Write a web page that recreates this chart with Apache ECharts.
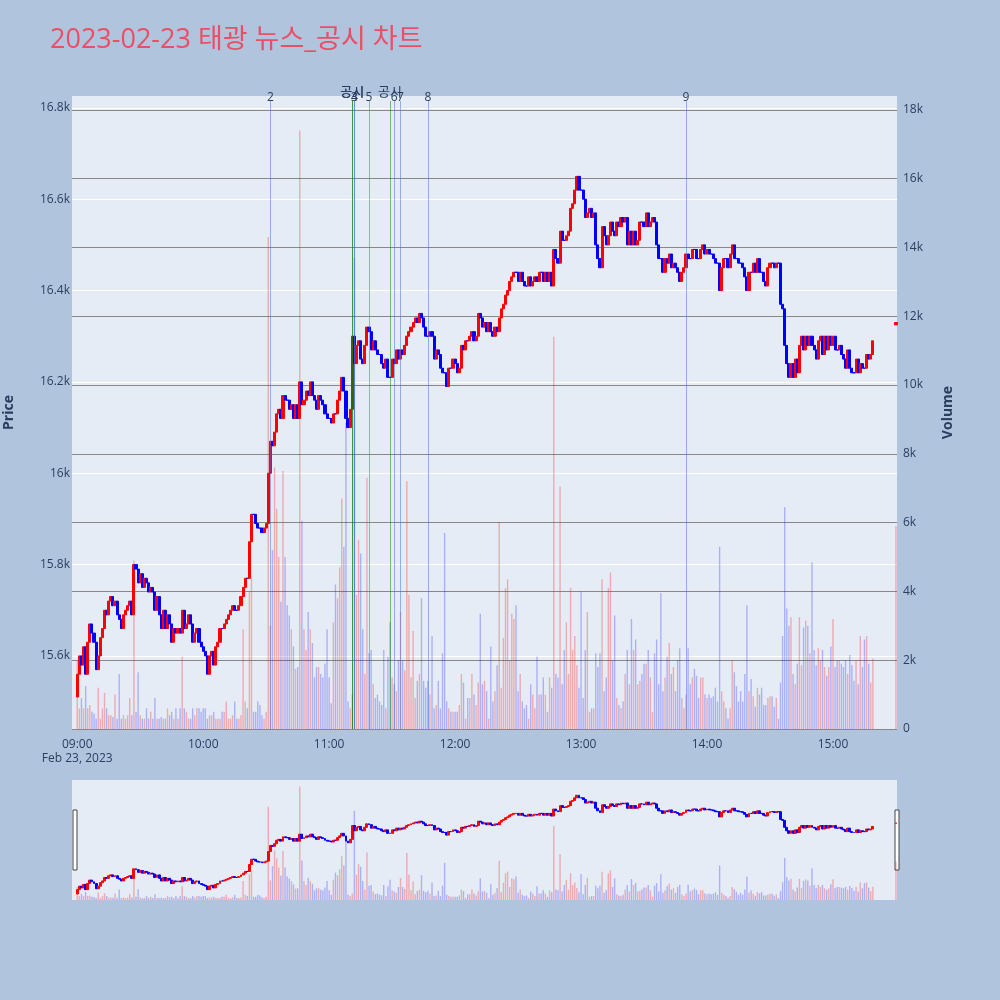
<!DOCTYPE html>
<html>

<head>
    <meta charset="utf-8">
    <title>태광 뉴스_공시 차트</title>
    <script src="https://cdn.jsdelivr.net/npm/echarts@6/dist/echarts.min.js"></script>
    <style>
        html, body { margin: 0; padding: 0; background: #b0c4de; }
    </style>
</head>

<body>
    <div id="main" style="width: 1000px;height:1000px;"></div>
    <script>
        // 분봉 종가 (09:00 ~ 15:19), 시간대별
        var firstOpen = 15510;
        var c09 = [15560,15600,15580,15620,15560,15630,15670,15650,15630,15570,
                   15600,15640,15660,15700,15690,15720,15730,15710,15720,15690,
                   15680,15660,15690,15700,15710,15720,15690,15800,15790,15760,
                   15780,15750,15770,15760,15740,15750,15740,15700,15730,15690,
                   15660,15700,15660,15690,15670,15630,15660,15650,15660,15650,
                   15700,15660,15670,15690,15670,15630,15650,15660,15630,15620];
        var c10 = [15610,15600,15560,15600,15610,15580,15620,15630,15660,15660,
                   15670,15680,15690,15700,15710,15700,15700,15710,15730,15750,
                   15770,15770,15850,15910,15910,15890,15880,15880,15870,15880,
                   15890,16000,16070,16060,16090,16130,16140,16120,16170,16160,
                   16160,16140,16150,16120,16150,16120,16200,16150,16160,16180,
                   16170,16200,16170,16160,16140,16170,16160,16150,16130,16120];
        var c11 = [16120,16110,16130,16130,16160,16180,16210,16180,16120,16100,
                   16140,16300,16240,16280,16290,16250,16240,16280,16320,16310,
                   16270,16290,16270,16260,16260,16240,16230,16250,16210,16210,
                   16250,16240,16270,16250,16270,16260,16280,16300,16310,16320,
                   16330,16340,16330,16350,16340,16320,16300,16300,16310,16300,
                   16250,16270,16260,16230,16220,16220,16190,16230,16230,16250];
        var c12 = [16240,16220,16230,16280,16270,16290,16290,16300,16310,16290,
                   16300,16350,16340,16320,16330,16310,16330,16310,16300,16320,
                   16310,16340,16360,16370,16390,16400,16420,16430,16440,16440,
                   16420,16440,16420,16410,16410,16430,16410,16420,16430,16420,
                   16440,16440,16420,16440,16420,16440,16410,16490,16470,16460,
                   16530,16510,16510,16520,16530,16580,16590,16620,16650,16620];
        var c13 = [16620,16600,16560,16570,16580,16560,16570,16500,16470,16450,
                   16540,16520,16500,16520,16550,16530,16520,16550,16540,16560,
                   16550,16560,16500,16530,16500,16530,16500,16510,16550,16550,
                   16540,16570,16540,16550,16560,16550,16500,16470,16470,16440,
                   16470,16460,16480,16450,16460,16450,16440,16420,16440,16450,
                   16480,16470,16470,16490,16490,16470,16470,16490,16500,16480];
        var c14 = [16490,16480,16480,16470,16460,16460,16400,16450,16470,16470,
                   16450,16480,16500,16470,16470,16460,16460,16450,16430,16400,
                   16440,16440,16460,16440,16470,16440,16440,16420,16410,16450,
                   16460,16460,16450,16460,16460,16370,16360,16280,16240,16210,
                   16240,16210,16250,16220,16280,16300,16270,16300,16280,16300,
                   16280,16270,16250,16290,16300,16260,16300,16270,16300,16280];
        var c15 = [16300,16270,16270,16280,16260,16250,16230,16270,16230,16220,
                   16220,16250,16220,16240,16230,16230,16260,16250,16260,16290];

        // 분봉 거래량 (천 주)
        var v09 = [2.0,0.6,0.9,0.6,1.25,0.6,0.7,0.5,0.45,0.3,
                   1.2,0.3,0.6,1.05,0.6,0.4,0.4,0.35,1.0,0.3,
                   1.6,0.3,0.4,0.3,0.4,0.9,0.4,4.9,0.5,1.65,
                   0.4,0.3,0.3,0.6,0.3,0.5,0.3,0.9,0.3,0.3,
                   0.35,0.3,0.3,0.6,0.4,0.5,0.3,0.6,0.3,0.6,
                   2.1,0.6,0.5,0.3,0.3,0.6,0.4,0.6,0.6,0.5];
        var v10 = [0.6,0.6,0.3,0.4,0.4,0.5,0.3,0.3,0.3,0.5,
                   0.5,0.8,0.3,0.3,0.4,0.8,0.3,0.3,0.4,2.9,
                   0.8,0.6,4.0,4.4,0.5,0.5,0.8,0.7,0.4,0.3,
                   0.5,14.3,3.0,5.2,7.6,6.4,5.0,3.7,7.5,5.0,
                   3.6,3.3,2.9,2.4,1.75,1.8,17.4,6.05,2.9,2.3,
                   3.4,2.9,2.5,1.5,1.8,1.8,1.6,1.5,1.9,2.9];
        var v11 = [1.5,0.75,3.1,4.2,3.8,4.7,6.7,5.3,8.9,0.8,
                   0.6,1.0,13.7,3.9,5.5,5.1,2.9,1.6,7.3,2.2,
                   2.3,1.3,0.9,1.0,0.8,0.7,2.3,0.6,2.1,3.1,
                   1.5,1.3,1.1,2.0,3.4,2.0,1.7,7.2,3.9,1.5,
                   2.85,0.9,1.4,1.6,3.8,1.4,1.2,1.4,1.0,2.7,
                   0.6,0.7,1.4,0.6,2.2,5.7,0.8,0.6,0.5,0.5];
        var v12 = [0.5,0.5,0.7,1.6,1.35,0.3,0.9,0.9,1.6,1.0,
                   0.7,1.35,3.35,1.3,1.4,1.1,0.3,2.4,0.8,1.1,
                   1.85,6.0,1.2,2.65,4.1,4.35,2.0,3.35,3.2,3.6,
                   1.1,1.6,0.8,0.6,0.7,0.3,1.3,1.0,0.6,2.1,
                   1.0,1.0,1.5,1.0,0.5,1.5,1.2,11.4,1.6,1.5,
                   7.05,1.3,2.3,3.1,1.6,4.1,2.3,2.7,1.85,1.2];
        var v13 = [4.0,0.9,2.3,3.4,0.5,0.6,0.6,2.2,1.8,2.2,
                   4.35,1.1,1.5,4.1,4.55,2.0,3.3,0.9,0.7,0.6,
                   0.8,1.6,2.3,1.3,3.2,2.3,2.6,1.3,1.4,1.6,
                   1.9,1.9,2.3,1.5,0.5,2.2,2.6,1.3,3.95,1.1,
                   1.5,2.1,2.5,1.6,1.8,1.1,2.0,2.35,0.9,0.6,
                   1.0,2.35,1.3,1.5,1.75,1.55,0.9,1.5,1.5,1.0];
        var v14 = [0.9,1.0,0.9,0.95,1.2,0.8,5.3,1.1,0.8,0.6,
                   0.3,0.6,2.0,1.65,1.25,0.8,1.1,0.8,1.6,3.6,
                   1.1,1.45,0.95,0.65,1.2,1.0,1.2,0.7,0.7,0.9,
                   0.95,0.95,0.65,0.9,0.3,1.35,2.7,6.45,3.5,3.0,
                   3.25,1.6,1.3,1.9,3.25,1.85,2.95,3.15,3.0,2.2,
                   4.85,2.3,1.85,2.35,2.0,2.3,1.8,1.55,1.8,2.4];
        var v15 = [3.2,1.8,2.0,2.0,1.9,1.8,2.0,1.6,2.15,1.85,
                   1.4,2.0,1.3,2.7,1.8,2.6,2.7,1.9,1.35,2.05];

        // 15:30 종가 단일가
        var auctionTime = '15:30';
        var auctionOC = [16325, 16330];
        var auctionVol = 5.9;

        // 뉴스 / 공시 시각
        var newsTimes = ['10:32', '11:12', '11:12', '11:19', '11:31', '11:34', '11:47', '13:50'];
        var newsLabels = ['2', '3', '4', '5', '6', '7', '8', '9'];
        var disclosureTimes = ['11:11', '11:11', '11:29'];

        var priceMin = 15440, priceMax = 16826;
        var volMax = 18.4;

        var closes = [].concat(c09, c10, c11, c12, c13, c14, c15);
        var vols = [].concat(v09, v10, v11, v12, v13, v14, v15);

        function hhmm(m) {
            var t = 540 + m;
            var h = Math.floor(t / 60), mm = t % 60;
            return (h < 10 ? '0' : '') + h + ':' + (mm < 10 ? '0' : '') + mm;
        }

        var cats = [], candles = [], volData = [];
        for (var m = -2; m <= 390; m++) {
            var label = hhmm(m);
            cats.push(label);
            var o, c, v;
            if (m >= 0 && m < closes.length) {
                o = m === 0 ? firstOpen : closes[m - 1];
                c = closes[m];
                v = vols[m];
            } else if (label === auctionTime) {
                o = auctionOC[0];
                c = auctionOC[1];
                v = auctionVol;
            } else {
                candles.push('-');
                volData.push('-');
                continue;
            }
            candles.push([o, c, Math.min(o, c), Math.max(o, c)]);
            volData.push({
                value: v,
                itemStyle: { color: c > o ? 'rgba(255,0,0,0.28)' : 'rgba(0,0,255,0.25)' }
            });
        }

        var lineTop = 16815;
        var markData = [];
        disclosureTimes.forEach(function (t) {
            markData.push([
                { coord: [t, priceMin], lineStyle: { color: 'rgba(0,128,0,0.5)', width: 1, type: 'solid' },
                  label: { formatter: '공시', distance: 2, fontSize: 13 } },
                { coord: [t, lineTop] }
            ]);
        });
        newsTimes.forEach(function (t, i) {
            markData.push([
                { coord: [t, priceMin], lineStyle: { color: 'rgba(65,105,225,0.5)', width: 1, type: 'solid' },
                  label: { formatter: newsLabels[i], distance: -3, fontSize: 12 } },
                { coord: [t, lineTop] }
            ]);
        });

        var myChart = echarts.init(document.getElementById('main'));

        var candleStyle = {
            color: '#ff0000',
            color0: '#0000ff',
            borderColor: '#ff0000',
            borderColor0: '#0000ff',
            borderColorDoji: '#0000ff',
            borderWidth: 1
        };

        var option = {
            backgroundColor: '#b0c4de',
            animation: false,
            textStyle: { fontFamily: '"Open Sans", "Noto Sans CJK KR", sans-serif' },
            title: {
                text: '2023-02-23 태광 뉴스_공시 차트',
                left: 45,
                top: 22,
                textStyle: {
                    color: '#ea4f66',
                    fontSize: 27,
                    fontWeight: 'normal',
                    fontFamily: '"Open Sans", "Noto Sans CJK KR", sans-serif'
                }
            },
            grid: [
                { left: 72, right: 103, top: 96, height: 633, show: true, backgroundColor: '#e5ecf6',
                  borderWidth: 0, containLabel: false, outerBoundsMode: 'none' },
                { left: 72, right: 103, top: 780, height: 120, show: true, backgroundColor: '#e5ecf6',
                  borderWidth: 0, containLabel: false, outerBoundsMode: 'none' }
            ],
            xAxis: [{
                type: 'category',
                gridIndex: 0,
                data: cats,
                axisLine: { show: false },
                axisTick: { show: false },
                splitLine: { show: false },
                axisLabel: {
                    interval: function (i, v) { return v.slice(3) === '00'; },
                    formatter: function (v) { return v === '09:00' ? '09:00\nFeb 23, 2023' : v; },
                    color: '#2a3f5f',
                    fontSize: 12,
                    lineHeight: 14,
                    margin: 9
                }
            }, {
                type: 'category',
                gridIndex: 1,
                data: cats,
                show: false
            }],
            yAxis: [{
                type: 'value',
                gridIndex: 0,
                position: 'left',
                min: priceMin,
                max: priceMax,
                splitNumber: 7,
                name: 'Price',
                nameLocation: 'middle',
                nameGap: 56,
                nameRotate: 90,
                nameTextStyle: { color: '#2a3f5f', fontSize: 14, fontWeight: 'bold' },
                axisLine: { show: false },
                axisTick: { show: false },
                axisLabel: {
                    color: '#2a3f5f', fontSize: 12, margin: 2,
                    showMinLabel: false, showMaxLabel: false,
                    formatter: function (v) { return (v / 1000) + 'k'; }
                },
                splitLine: { showMinLine: false, showMaxLine: false, lineStyle: { color: '#ffffff', width: 1.2 } }
            }, {
                type: 'value',
                gridIndex: 0,
                position: 'right',
                min: 0,
                max: volMax,
                splitNumber: 9,
                name: 'Volume',
                nameLocation: 'middle',
                nameGap: 44,
                nameRotate: 90,
                nameTextStyle: { color: '#2a3f5f', fontSize: 14, fontWeight: 'bold' },
                axisLine: { show: false },
                axisTick: { show: false },
                axisLabel: {
                    color: '#2a3f5f', fontSize: 12, margin: 6,
                    showMaxLabel: false,
                    formatter: function (v) { return v ? v + 'k' : '0'; }
                },
                splitLine: { showMaxLine: false, lineStyle: { color: '#888888', width: 1.2 } }
            }, {
                type: 'value', gridIndex: 1, min: priceMin, max: priceMax, show: false
            }, {
                type: 'value', gridIndex: 1, min: 0, max: volMax, show: false
            }],
            series: [{
                name: 'Volume',
                type: 'bar',
                xAxisIndex: 0,
                yAxisIndex: 1,
                barWidth: 1.4,
                z: 1,
                data: volData
            }, {
                name: 'Price',
                type: 'candlestick',
                xAxisIndex: 0,
                yAxisIndex: 0,
                barWidth: 2.6,
                z: 2,
                itemStyle: candleStyle,
                data: candles,
                markLine: {
                    silent: true,
                    animation: false,
                    symbol: ['none', 'none'],
                    label: { show: true, position: 'end', color: '#2a3f5f' },
                    data: markData
                }
            }, {
                type: 'bar',
                xAxisIndex: 1,
                yAxisIndex: 3,
                barWidth: 1.4,
                z: 1,
                data: volData
            }, {
                type: 'candlestick',
                xAxisIndex: 1,
                yAxisIndex: 2,
                barWidth: 2.4,
                z: 2,
                itemStyle: candleStyle,
                data: candles
            }],
            graphic: [
                { type: 'rect', shape: { x: 73, y: 810, width: 4, height: 60 },
                  style: { fill: '#ffffff', stroke: '#444444', lineWidth: 1 } },
                { type: 'rect', shape: { x: 895, y: 810, width: 4, height: 60 },
                  style: { fill: '#ffffff', stroke: '#444444', lineWidth: 1 } }
            ]
        };
        myChart.setOption(option);
    </script>
</body>

</html>
